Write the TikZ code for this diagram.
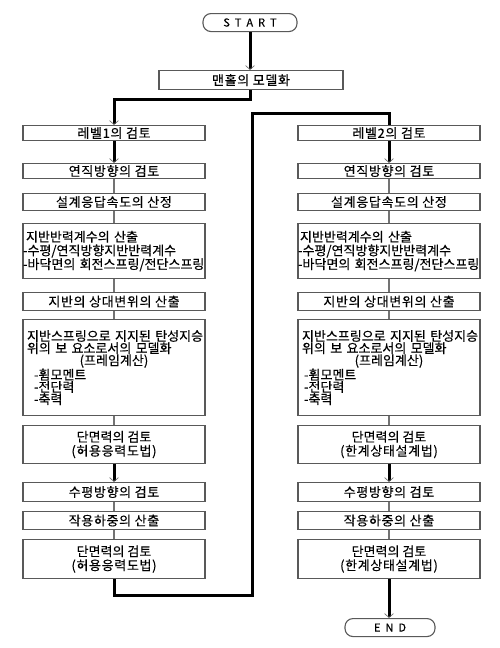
\documentclass[tikz,border=0pt]{standalone}
\usepackage{fontspec}
\setmainfont{Noto Sans CJK KR}[FakeBold=0.3]
\newfontfamily\spfont[LetterSpace=5,FakeBold=0.3]{Noto Sans CJK KR}
\usetikzlibrary{arrows.meta}
\tikzset{
  box/.style={draw=black!65, line width=1.1pt, minimum width=182pt, inner sep=0pt, anchor=north, fill=white},
  termbox/.style={draw=black!65, line width=1.1pt, rounded corners=8pt, inner sep=0pt, anchor=north},
  thickline/.style={line width=3pt, black},
  thickarrow/.style={thickline, -{Straight Barb[length=4pt,width=9pt,line width=0.7pt,color=black!55]}},
  thinline/.style={line width=1.1pt, black!55},
  mtext/.style={align=left, text width=182pt},
}
\newcommand{\sq}[1]{\hspace*{#1pt}}
\begin{document}
\begin{tikzpicture}[x=1pt,y=-1pt,font=\fontsize{13}{15}\selectfont]
\useasboundingbox (0,0) rectangle (500,648);
% terminals
\node[termbox, minimum width=94pt, minimum height=18pt, font=\fontsize{11}{13}\selectfont] (start) at (250,13) {S\sq{5}T\sq{5}A\sq{5}R\sq{5}T};
\node[box, minimum width=184pt, minimum height=19pt] (man) at (251,70) {\spfont 맨홀의 모델화};
\node[termbox, minimum width=90pt, minimum height=18pt, font=\fontsize{11}{13}\selectfont] (end) at (390,618) {E\sq{5}N\sq{5}D};

% left column
\node[box, minimum height=15pt] (lvlL) at (114,125) {\spfont 레벨1의 검토};
\node[box, minimum height=15pt] (vertL) at (114,163) {\spfont 연직방향의 검토};
\node[box, minimum height=17pt] (respL) at (114,193) {\spfont 설계응답속도의 산정};
\node[box, minimum height=55pt, mtext, font=\fontsize{13}{13.7}\selectfont] (subgL) at (114,223)
  {\sq{3}지반반력계수의 산출\\-수평/연직방향지반반력계수\\-바닥면의 회전스프링/전단스프링};
\node[box, minimum height=18pt] (relL) at (114,292) {\spfont 지반의 상대변위의 산출};
\node[box, minimum height=96pt, mtext, font=\fontsize{13}{12.2}\selectfont] (modL) at (114,319)
  {\sq{4}지반스프링으로 지지된 탄성지승\\\sq{4}위의 보 요소로서의 모델화\\\makebox[182pt][c]{(프레임계산)}\\\sq{11}-휨모멘트\\\sq{11}-전단력\\\sq{11}-축력};
\node[box, minimum height=38pt, align=center, font=\fontsize{13}{14}\selectfont] (sec1L) at (114,425) {단면력의 검토\\{\spfont (허용응력도법)}};
\node[box, minimum height=19pt] (horL) at (114,482) {\spfont 수평방향의 검토};
\node[box, minimum height=18pt] (loadL) at (114,511) {\spfont 작용하중의 산출};
\node[box, minimum height=39pt, align=center, font=\fontsize{13}{14}\selectfont] (sec2L) at (114,539) {단면력의 검토\\{\spfont (허용응력도법)}};

% right column
\node[box, minimum height=15pt] (lvlR) at (389,125) {\spfont 레벨2의 검토};
\node[box, minimum height=15pt] (vertR) at (389,163) {\spfont 연직방향의 검토};
\node[box, minimum height=17pt] (respR) at (389,193) {\spfont 설계응답속도의 산정};
\node[box, minimum height=55pt, mtext, font=\fontsize{13}{13.7}\selectfont] (subgR) at (389,223)
  {\sq{2}지반반력계수의 산출\\-수평/연직방향지반반력계수\\-바닥면의 회전스프링/전단스프링};
\node[box, minimum height=18pt] (relR) at (389,292) {\spfont 지반의 상대변위의 산출};
\node[box, minimum height=96pt, mtext, font=\fontsize{13}{12.2}\selectfont] (modR) at (389,319)
  {\sq{4}지반스프링으로 지지된 탄성지승\\\sq{4}위의 보 요소로서의 모델화\\\makebox[182pt][c]{(프레임계산)}\\\sq{6}-휨모멘트\\\sq{6}-전단력\\\sq{6}-축력};
\node[box, minimum height=38pt, align=center, font=\fontsize{13}{14}\selectfont] (sec1R) at (389,425) {단면력의 검토\\{\spfont (한계상태설계법)}};
\node[box, minimum height=19pt] (horR) at (389,482) {\spfont 수평방향의 검토};
\node[box, minimum height=18pt] (loadR) at (389,511) {\spfont 작용하중의 산출};
\node[box, minimum height=39pt, align=center, font=\fontsize{13}{14}\selectfont] (sec2R) at (389,539) {단면력의 검토\\{\spfont (한계상태설계법)}};

% connector coordinates
\coordinate (m1) at (250,99);
\coordinate (m2) at (114,99);
\coordinate (j1) at (114,595);
\coordinate (j2) at (252,595);
\coordinate (j3) at (252,113);
\coordinate (j4) at (389,113);

% thick connectors
\draw[thickarrow] (start.south) -- (start.south |- man.north);
\draw[thickarrow] (m1 |- man.south) -- (m1) -- (m2) -- (lvlL.north);
\draw[thickline, line join=miter] (sec2L.south) -- (j1) -- (j2) -- (j3) -- (j4) -- (lvlR.north);
\foreach \c in {L,R}{
  \draw[thickarrow] (lvl\c.south) -- (vert\c.north);
  \draw[thickarrow] (sec1\c.south) -- (hor\c.north);
  \draw[thinline] (vert\c.south) -- (resp\c.north);
  \draw[thinline] (resp\c.south) -- (subg\c.north);
  \draw[thinline] (subg\c.south) -- (rel\c.north);
  \draw[thinline] (rel\c.south) -- (mod\c.north);
  \draw[thinline] (mod\c.south) -- (sec1\c.north);
  \draw[thinline] (hor\c.south) -- (load\c.north);
  \draw[thinline] (load\c.south) -- (sec2\c.north);
}
\draw[thickarrow] (sec2R.south) -- (sec2R.south |- end.north);
\end{tikzpicture}
\end{document}
